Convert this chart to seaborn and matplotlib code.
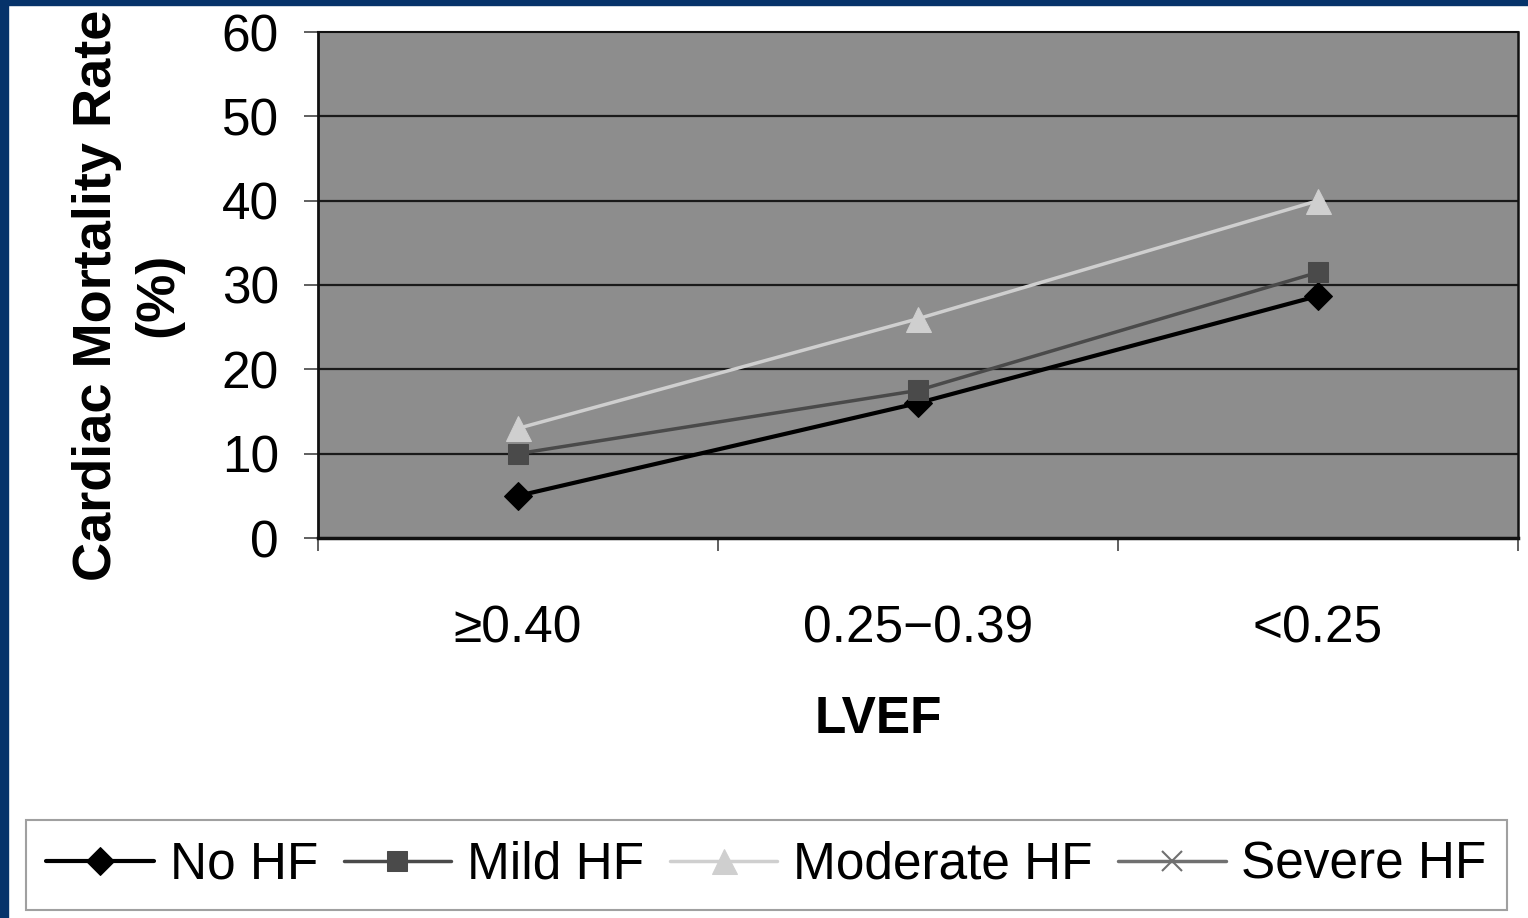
import numpy as np
import pandas as pd
import matplotlib
matplotlib.use("Agg")
import matplotlib.pyplot as plt
import seaborn as sns
from matplotlib.patches import Rectangle

categories = ["\u22650.40", "0.25\u22120.39", "<0.25"]
no_hf = [5.0, 16.0, 28.7]
mild_hf = [10.0, 17.5, 31.5]
moderate_hf = [13.0, 26.0, 40.0]
severe_hf = [np.nan, np.nan, np.nan]
y_ticks = [0, 10, 20, 30, 40, 50, 60]

sns.set_theme(style="white")
plt.rcParams["font.family"] = ["Liberation Sans", "DejaVu Sans"]

fig = plt.figure(figsize=(15.28, 9.18), dpi=100)
fig.patch.set_facecolor("white")
navy = "#06336a"
fig.patches.append(Rectangle((0, 0), 8 / 1528, 1, transform=fig.transFigure, color=navy, zorder=0))
fig.patches.append(Rectangle((0, 1 - 5 / 918), 1, 5 / 918, transform=fig.transFigure, color=navy, zorder=0))

ax = fig.add_axes([318 / 1528, 1 - 538 / 918, 1200 / 1528, 506 / 918])
ax.set_facecolor("#8d8d8d")

x_pos = np.arange(len(categories))
series = [
    ("No HF", no_hf, "black", "D", 14, 3.0),
    ("Mild HF", mild_hf, "#4a4a4a", "s", 15, 2.5),
    ("Moderate HF", moderate_hf, "#cfcfcf", "^", 18, 2.5),
]
for name, vals, col, mk, ms, lw in series:
    df = pd.DataFrame({"x": x_pos, "y": vals})
    sns.lineplot(data=df, x="x", y="y", ax=ax, color=col, marker=mk, markersize=ms,
                 markeredgecolor=col, linewidth=lw, label=name, zorder=3)
ax.plot(x_pos, severe_hf, color="#707070", marker="x", markersize=14, linewidth=2.5,
        markeredgewidth=1.5, label="Severe HF")

ax.set_xlim(-0.5, 2.5)
ax.set_ylim(0, 60)
ax.set_yticks(y_ticks)
ax.set_yticklabels([str(v) for v in y_ticks])
ax.set_xticks(x_pos)
ax.set_xticklabels(categories)
ax.set_xticks([-0.5, 0.5, 1.5, 2.5], minor=True)
ax.tick_params(axis="x", which="major", length=0, pad=48, labelsize=37, labelcolor="black")
ax.tick_params(axis="x", which="minor", length=9, width=1.2, color="#444444", direction="out", bottom=True)
ax.tick_params(axis="y", which="major", length=10, width=1.2, color="#444444", direction="out",
               pad=18, labelsize=37, left=True, labelcolor="black")

for v in y_ticks[1:-1]:
    ax.axhline(v, color="#1a1a1a", linewidth=1.6, zorder=1)

for side, lw in [("left", 2.0), ("bottom", 2.5), ("top", 1.5), ("right", 1.8)]:
    ax.spines[side].set_visible(True)
    ax.spines[side].set_color("#111111")
    ax.spines[side].set_linewidth(lw)

ax.set_xlabel("LVEF", fontsize=37, fontweight="bold", color="black")
ax.xaxis.set_label_coords(0.467, -0.31)
ax.set_ylabel("Cardiac Mortality Rate\n(%)", fontsize=39, fontweight="bold", color="black",
              linespacing=1.3)
ax.yaxis.set_label_coords(-0.112, 0.48)

handles, labels = ax.get_legend_handles_labels()
if ax.get_legend():
    ax.get_legend().remove()
leg = fig.legend(handles, labels, loc="center", bbox_to_anchor=(0.5016, 0.0577), ncol=4,
                 fontsize=37, frameon=True, fancybox=False, edgecolor="#888888",
                 handlelength=2.1, handletextpad=0.3, columnspacing=0.5, borderpad=0.4)
leg.get_frame().set_linewidth(1.5)
for t in leg.get_texts():
    t.set_color("black")

fig.savefig("out.png", dpi=100, facecolor=fig.get_facecolor())
